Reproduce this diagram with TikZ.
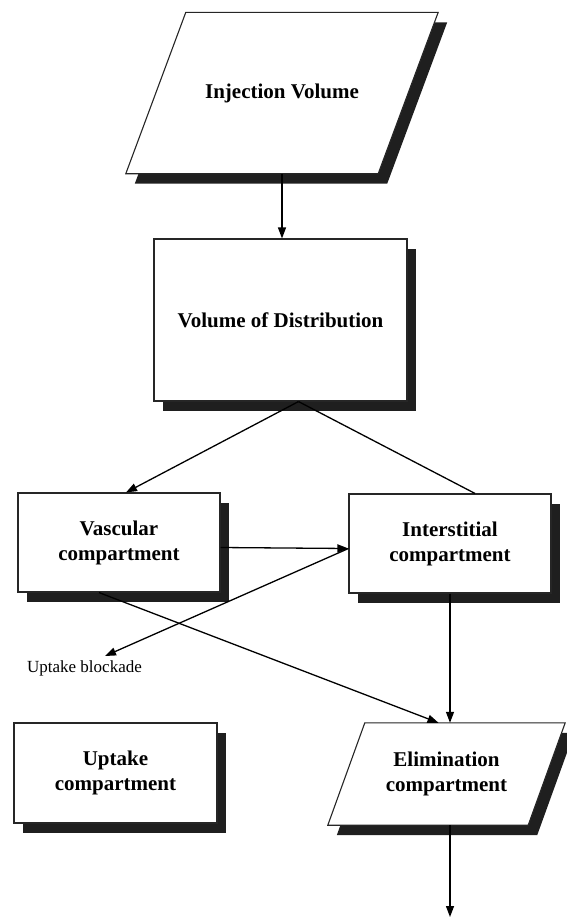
\documentclass[tikz,border=0pt]{standalone}
\usepackage{fontspec}
\setmainfont{Liberation Serif}
\usetikzlibrary{arrows.meta,shadows,backgrounds}

\begin{document}
\begin{tikzpicture}[x=1pt,y=-1pt,
    txt/.style={align=center,font=\fontsize{21}{25}\selectfont\bfseries,inner sep=0pt},
    box/.style={txt,draw=black!85,line width=1.1pt,fill=white,
      drop shadow={shadow xshift=9pt,shadow yshift=-10pt,fill=black!88,opacity=1}},
    edge/.style={draw=black!85,line width=1.1pt,fill=white},
    shade/.style={fill=black!88},
    arr/.style={-{Triangle[length=11pt,width=8pt]},line width=1.3pt}]
  \useasboundingbox (0,0) rectangle (566,919);
  % compartments
  \node[txt,minimum width=312pt,minimum height=161pt] (inj) at (282,93) {Injection Volume};
  \node[box,minimum width=253pt,minimum height=162pt] (vod) at (280.5,320) {Volume of Distribution};
  \node[box,minimum width=202pt,minimum height=99pt] (vasc) at (119,542.5) {Vascular\\compartment};
  \node[box,minimum width=202pt,minimum height=99pt] (inter) at (450,543.5) {Interstitial\\compartment};
  \node[box,minimum width=203pt,minimum height=100pt] (upt) at (115.5,773) {Uptake\\compartment};
  \node[txt,minimum width=237pt,minimum height=102pt] (elim) at (446.5,774) {Elimination\\compartment};
  \node[font=\fontsize{17}{19}\selectfont] (blk) at (84.5,668) {Uptake blockade};
  \coordinate (tip) at (105,656);
  \coordinate (out) at (450,917);
  % slanted shapes behind their texts
  \begin{pgfonlayer}{background}
    \fill[shade] ([xshift=9pt,yshift=-10pt]inj.south west) -- ([xshift=-51pt,yshift=-10pt]inj.south east)
      -- ([xshift=9pt,yshift=-10pt]inj.north east) -- ([xshift=69pt,yshift=-10pt]inj.north west) -- cycle;
    \path[edge] (inj.south west) -- ([xshift=-60pt]inj.south east) -- (inj.north east)
      -- ([xshift=60pt]inj.north west) -- cycle;
    \fill[shade] ([xshift=9pt,yshift=-10pt]elim.south west) -- ([xshift=-28pt,yshift=-10pt]elim.south east)
      -- ([xshift=9pt,yshift=-10pt]elim.north east) -- ([xshift=46pt,yshift=-10pt]elim.north west) -- cycle;
    \path[edge] (elim.south west) -- ([xshift=-37pt]elim.south east) -- (elim.north east)
      -- ([xshift=37pt]elim.north west) -- cycle;
  \end{pgfonlayer}
  % flows
  \draw[arr] (inj.south) -- (inj.south |- vod.north);
  \coordinate (split) at ([xshift=18pt]vod.south);
  \draw[arr] (split) -- ([xshift=7pt]vasc.north);
  \draw[line width=1.3pt] (split) -- ([xshift=25pt]inter.north);
  \draw[arr] ([yshift=-5pt]vasc.east) -- ([yshift=-5pt]inter.west);
  \draw[arr] ([yshift=-5pt]inter.west) -- (tip);
  \draw[arr] ([xshift=-20pt]vasc.south) -- ([xshift=-8pt]elim.north);
  \draw[arr] (inter.south) -- (inter.south |- elim.north);
  \draw[arr] (elim.south -| inter.south) -- (out);
\end{tikzpicture}
\end{document}
